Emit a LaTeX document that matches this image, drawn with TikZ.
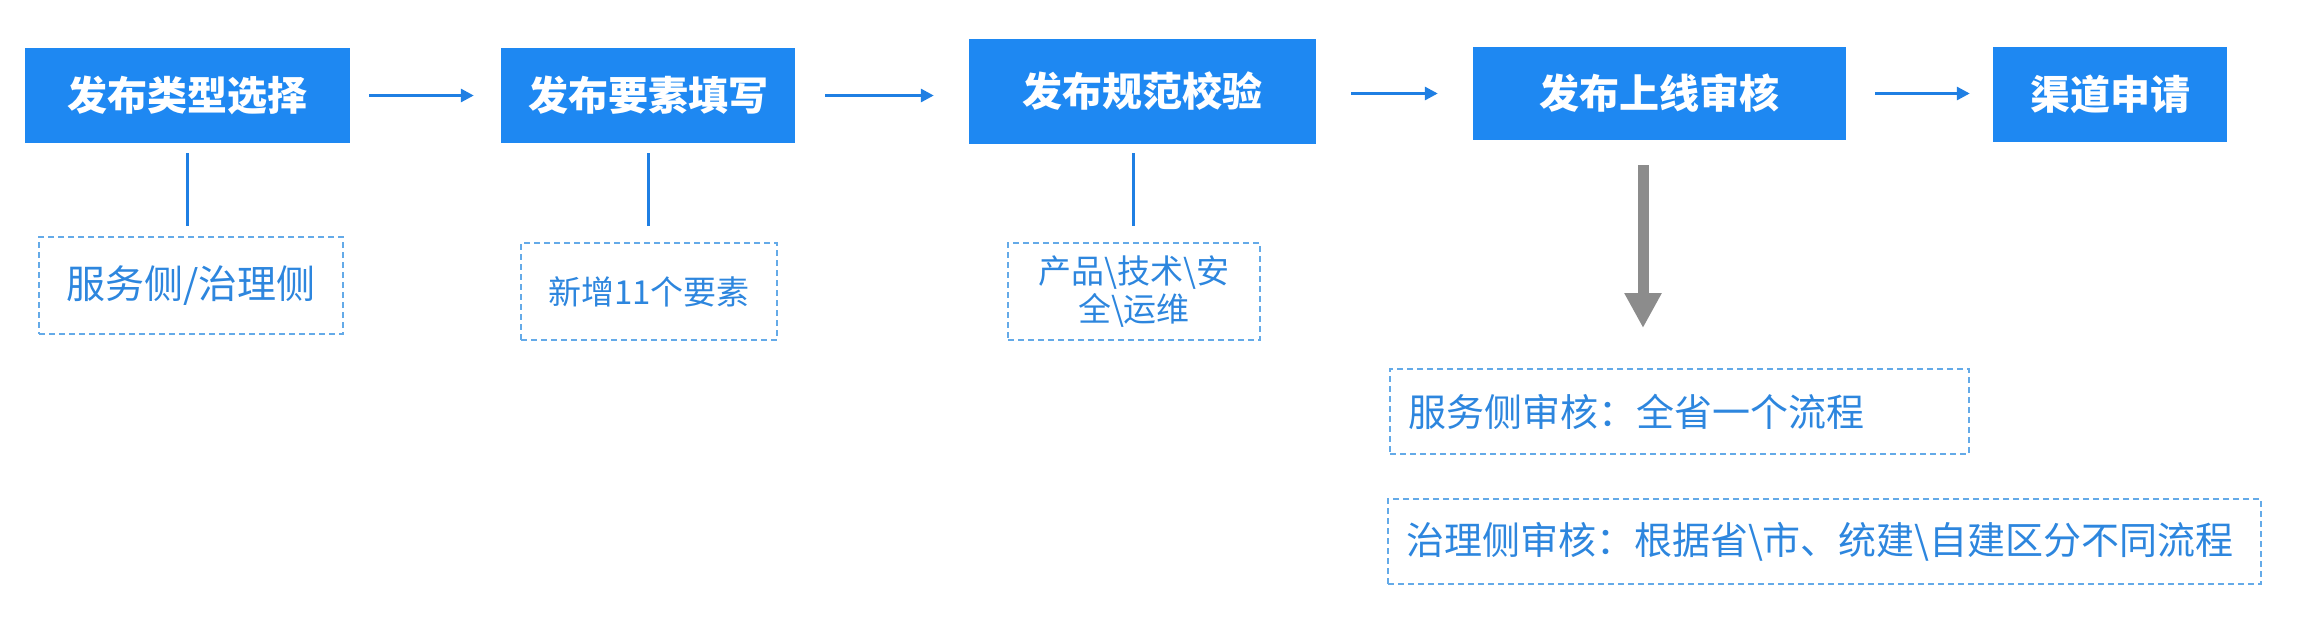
\documentclass[tikz,border=0pt]{standalone}
\usepackage{fontspec}
\setmainfont{Noto Sans CJK SC}
\usetikzlibrary{arrows.meta}
\definecolor{boxblue}{RGB}{30,136,242}
\definecolor{txtblue}{RGB}{45,134,222}
\definecolor{dashblue}{RGB}{100,170,232}
\definecolor{arrblue}{RGB}{31,127,227}
\definecolor{arrgray}{RGB}{140,140,140}
\begin{document}
\begin{tikzpicture}[x=1pt,y=1pt,
  stepbox/.style={rectangle, fill=boxblue, text=white, inner sep=0pt,
    font=\fontsize{40pt}{48pt}\selectfont\bfseries},
  notebox/.style={rectangle, draw=dashblue, line width=2pt, dash pattern=on 6pt off 4pt,
    text=txtblue, inner sep=0pt, font=\fontsize{38pt}{45pt}\selectfont},
  smallnote/.style={notebox, font=\fontsize{33pt}{38pt}\selectfont},
  flow/.style={draw=arrblue, line width=3pt, -{Triangle[length=13pt,width=13pt]}},
  tie/.style={draw=arrblue, line width=3pt}
]
\useasboundingbox (0,0) rectangle (2304,-622);
% main steps
\node[stepbox, minimum width=325pt, minimum height=95pt] (b1) at (187.5,-95.5) {发布类型选择};
\node[stepbox, minimum width=294pt, minimum height=95pt] (b2) at (648,-95.5) {发布要素填写};
\node[stepbox, minimum width=347pt, minimum height=105pt] (b3) at (1142.5,-91.5) {发布规范校验};
\node[stepbox, minimum width=373pt, minimum height=93pt] (b4) at (1659.5,-93.5) {发布上线审核};
\node[stepbox, minimum width=234pt, minimum height=95pt] (b5) at (2110,-94.5) {渠道申请};
% notes
\node[notebox, font=\fontsize{39pt}{46pt}\selectfont, minimum width=304pt, minimum height=97pt] (d1) at (191,-285.5) {服务侧/治理侧};
\node[smallnote, minimum width=256pt, minimum height=97pt] (d2) at (649,-291.5) {新增11个要素};
\node[smallnote, minimum width=252pt, minimum height=97pt, align=center] (d3) at (1134,-291.5) {产品\textbackslash 技术\textbackslash 安\\全\textbackslash 运维};
\node[notebox, minimum height=85pt, inner xsep=18pt, text width=543pt, align=left] (d4) at (1679.5,-411.5) {服务侧审核：全省一个流程};
\node[notebox, minimum height=85pt, inner xsep=18pt, text width=837pt, align=left] (d5) at (1824.5,-541.5) {治理侧审核：根据省\textbackslash 市、统建\textbackslash 自建区分不同流程};
% flow arrows
\draw[flow, shorten <=19pt, shorten >=27pt] (b1.east) -- (b1.east -| b2.west);
\draw[flow, shorten <=30pt, shorten >=35pt] (b2.east) -- (b2.east -| b3.west);
\draw[flow, shorten <=35pt, shorten >=35pt] (b4.west -| b3.east) -- (b4.west);
\draw[flow, shorten <=29pt, shorten >=23pt] (b4.east) -- (b4.east -| b5.west);
% ties to notes
\draw[tie, shorten <=10pt, shorten >=10pt] (b1.south) -- (b1.south |- d1.north);
\draw[tie, shorten <=10pt, shorten >=16pt] (b2.south) -- (b2.south |- d2.north);
\draw[tie, shorten <=9pt, shorten >=16pt] ([xshift=-9pt]b3.south) -- ([xshift=-9pt]b3.south |- d3.north);
% gray arrow
\coordinate (gend) at (1643,-328);
\draw[draw=arrgray, line width=11pt, -{Triangle[length=35pt,width=35pt]}, shorten <=25pt] (b4.south -| gend) -- (gend);
\end{tikzpicture}
\end{document}
